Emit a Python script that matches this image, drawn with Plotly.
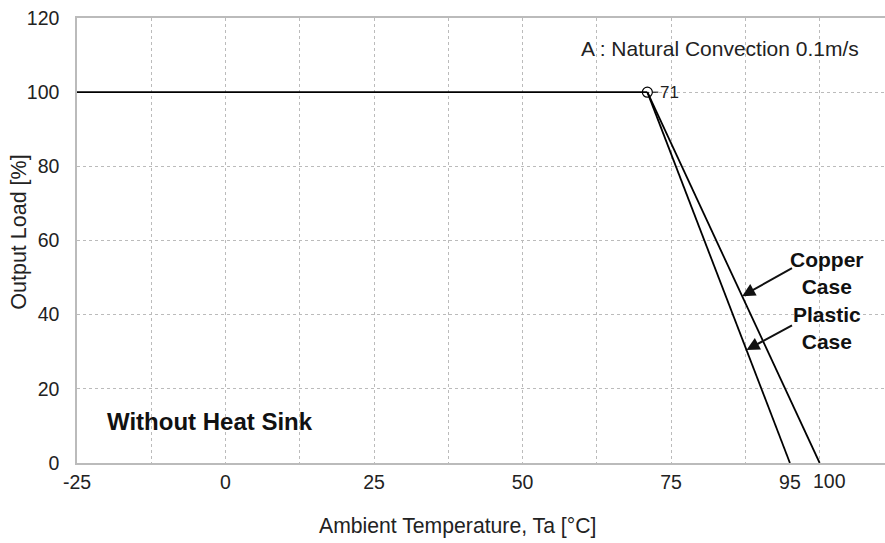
import plotly.graph_objects as go

# Data
flat_x = [-25, 71]
flat_y = [100, 100]
plastic_x = [71, 95]
plastic_y = [100, 0]
copper_x = [71, 100]
copper_y = [100, 0]
knee_x = [71]
knee_y = [100]
x_tickvals = [-25, 0, 25, 50, 75, 95]
x_ticktext = ["-25", "0", "25", "50", "75", "95"]
x_last_tick = 100
x_last_text = "100"
y_tickvals = [0, 20, 40, 60, 80, 100, 120]

FONT = "Liberation Sans, Arial, sans-serif"

fig = go.Figure()
line = dict(color="black", width=1.8)
fig.add_trace(go.Scatter(x=flat_x, y=flat_y, mode="lines", line=line, showlegend=False))
fig.add_trace(go.Scatter(x=plastic_x, y=plastic_y, mode="lines", line=line, showlegend=False))
fig.add_trace(go.Scatter(x=copper_x, y=copper_y, mode="lines", line=line, showlegend=False))
fig.add_trace(go.Scatter(x=knee_x, y=knee_y, mode="markers",
                         marker=dict(symbol="circle-open", size=10, color="black", line=dict(width=1.2)),
                         showlegend=False))

fig.add_annotation(x=knee_x[0], y=knee_y[0], text="71", showarrow=True, arrowhead=0,
                   arrowwidth=1, arrowcolor="black", ax=11, ay=0, xanchor="left",
                   font=dict(family=FONT, size=17, color="#222"), standoff=5)

# Copper arrow: point on copper line
cy = 45
cx = copper_x[0] + (copper_x[1] - copper_x[0]) * (copper_y[0] - cy) / (copper_y[0] - copper_y[1])
fig.add_annotation(x=cx, y=cy, ax=95.6, ay=52.8, axref="x", ayref="y", text="",
                   showarrow=True, arrowhead=2, arrowsize=1.3, arrowwidth=2, arrowcolor="#111")
fig.add_annotation(x=101.3, y=51.3, text="<b>Copper<br>Case</b>", showarrow=False,
                   font=dict(family=FONT, size=21, color="#111"))
py = 30.5
px = plastic_x[0] + (plastic_x[1] - plastic_x[0]) * (plastic_y[0] - py) / (plastic_y[0] - plastic_y[1])
fig.add_annotation(x=px, y=py, ax=95.6, ay=37.3, axref="x", ayref="y", text="",
                   showarrow=True, arrowhead=2, arrowsize=1.3, arrowwidth=2, arrowcolor="#111")
fig.add_annotation(x=101.3, y=36.4, text="<b>Plastic<br>Case</b>", showarrow=False,
                   font=dict(family=FONT, size=21, color="#111"))

fig.add_annotation(x=-20.3, y=11.2, text="<b>Without Heat Sink</b>", showarrow=False,
                   xanchor="left", font=dict(family=FONT, size=24, color="#111"))
fig.add_annotation(x=107, y=111.8, xanchor="right",
                   text="A : Natural Convection 0.1m/s", showarrow=False,
                   font=dict(family=FONT, size=21, color="#222"))

# "100" tick label, nudged right as in the reference
fig.add_annotation(x=x_last_tick, y=0, yanchor="top", xshift=10, yshift=-5,
                   text=x_last_text, showarrow=False,
                   font=dict(family=FONT, size=19.5, color="#222"))

# Axis titles (placed as in the reference, off-centre)
fig.add_annotation(x=0.4703, y=-0.142, xref="paper", yref="paper", yanchor="middle",
                   text="Ambient Temperature, Ta [°C]", showarrow=False,
                   font=dict(family=FONT, size=21.2, color="#222"))
fig.add_annotation(x=-0.0715, y=0.518, xref="paper", yref="paper", xanchor="center",
                   yanchor="middle", textangle=-90,
                   text="Output Load [%]", showarrow=False,
                   font=dict(family=FONT, size=21.5, color="#222"))

fig.update_layout(
    width=885, height=543,
    margin=dict(l=77, r=0, t=18, b=80),
    plot_bgcolor="white", paper_bgcolor="white",
    font=dict(family=FONT, size=19.5, color="#222"),
    xaxis=dict(range=[-25, 111], tickvals=x_tickvals, ticktext=x_ticktext,
               tickangle=0,
               showgrid=False, zeroline=False, showline=True, linecolor="#bbb",
               linewidth=1.5, mirror=True, ticks="", ticklabelstandoff=1,
               automargin=False,
               minor=dict(tick0=-25, dtick=12.5, showgrid=True, gridcolor="#bbb",
                          griddash="dot", gridwidth=1)),
    yaxis=dict(range=[0, 120], tickvals=y_tickvals, showgrid=True, gridcolor="#bbb",
               griddash="dot", gridwidth=1, zeroline=False, showline=True,
               linecolor="#bbb", linewidth=1.5, ticks="", ticklabelstandoff=12,
               automargin=False),
)

fig.write_html("out.html", config={"displayModeBar": False},
               post_script="document.body.style.margin='0px';")
